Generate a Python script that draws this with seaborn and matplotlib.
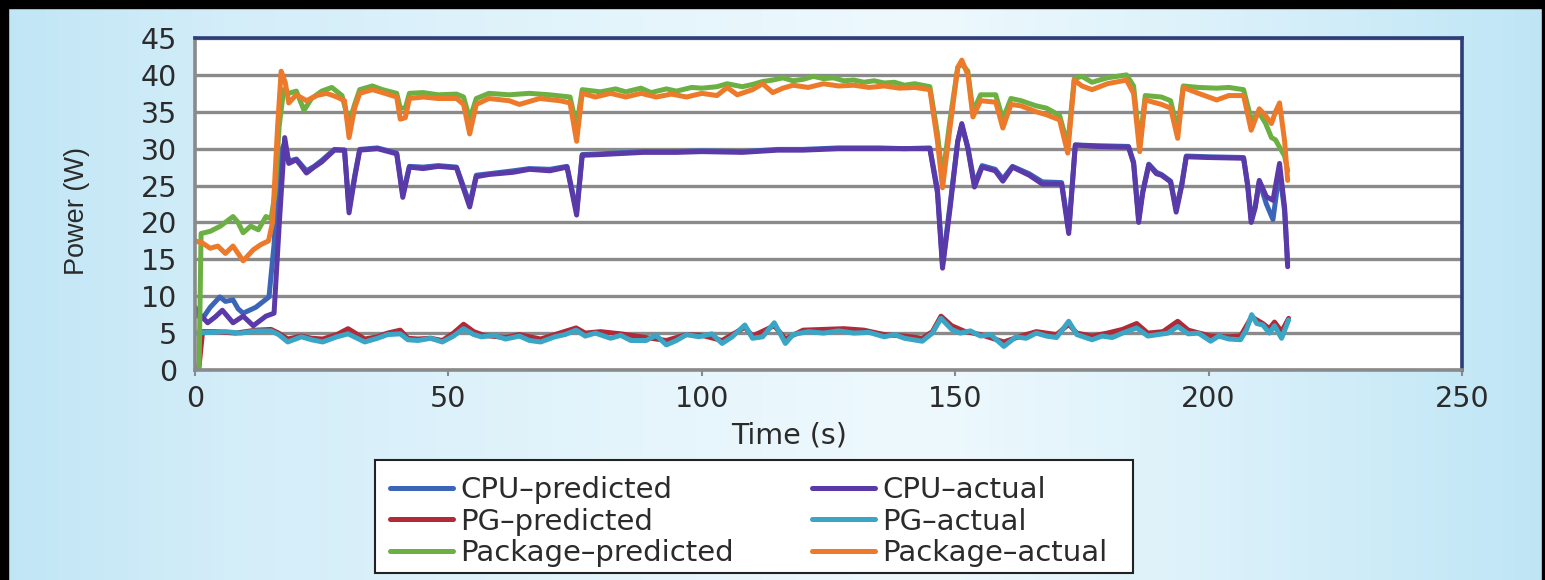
import numpy as np
import pandas as pd
import matplotlib
matplotlib.use("Agg")
import matplotlib.pyplot as plt
from matplotlib.patches import Rectangle
from matplotlib.colors import to_rgb
import seaborn as sns

# ---------------- data ----------------
cpu_predicted = [(0, 7.5), (1.5, 7.0), (3, 8.5), (4.9, 9.9), (6, 9.3), (7.5, 9.5), (8.5, 8.3),
                 (9.5, 7.7), (12, 8.5), (14.6, 9.9), (15.6, 17), (16.6, 29), (17.7, 30.8),
                 (18.5, 28.3), (20, 28.6), (22, 27.0), (23.5, 27.6), (25, 28.4), (27.5, 29.9),
                 (29.5, 29.8), (30.4, 21.8), (31.5, 26.3), (32.5, 29.9), (36, 30.1), (39.8, 29.4),
                 (41, 23.8), (42.3, 27.6), (45, 27.5), (48, 27.7), (51.6, 27.5), (54.2, 22.5),
                 (55.5, 26.4), (58, 26.6), (62.8, 27.0), (66, 27.3), (70, 27.2), (73.4, 27.6),
                 (75.3, 21.5), (76.4, 29.2), (80, 29.3), (88.5, 29.6), (95, 29.6), (100, 29.7),
                 (108, 29.6), (115, 29.9), (120, 29.9), (127, 30.1), (135, 30.1), (140, 30.0),
                 (145, 30.1), (146.5, 24.5), (147.5, 14.3), (149, 22.5), (150.5, 31), (151.3, 33.2),
                 (152.5, 30.2), (153.8, 25.2), (155.3, 27.7), (157.9, 27.2), (159.4, 25.9),
                 (161.3, 27.6), (164.6, 26.6), (167.2, 25.5), (171, 25.4), (172.4, 19.0),
                 (173.7, 30.5), (178, 30.4), (184.2, 30.3), (185.2, 28.2), (186.2, 20.5),
                 (187, 24.2), (188.2, 27.9), (189.7, 26.8), (190.7, 26.5), (192.5, 25.6),
                 (193.6, 21.8), (194.7, 25.2), (195.6, 29.0), (200, 28.9), (206.9, 28.8),
                 (207.7, 25.2), (208.4, 20.5), (209.2, 22.2), (210, 25.5), (211.4, 22.5),
                 (212.7, 20.4), (214, 27.0), (215, 21.5), (215.6, 14.5)]

cpu_actual = [(0, 8.5), (1, 7.5), (2.5, 6.4), (4, 7.2), (5.4, 8.1), (7.5, 6.4), (9.5, 7.3),
              (11.5, 6.0), (14, 7.3), (15.6, 7.7), (16.6, 19.5), (17.7, 31.5), (18.5, 28.0),
              (20, 28.5), (22, 26.7), (23.5, 27.5), (25, 28.2), (27.5, 29.8), (29.5, 29.8),
              (30.4, 21.3), (31.5, 26.0), (32.5, 29.8), (36, 30.0), (39.8, 29.3), (41, 23.4),
              (42.3, 27.5), (45, 27.3), (48, 27.6), (51.6, 27.4), (54.2, 22.1), (55.5, 26.2),
              (58, 26.5), (62.8, 26.8), (66, 27.2), (70, 27.0), (73.4, 27.5), (75.3, 21.0),
              (76.4, 29.1), (80, 29.2), (88.5, 29.5), (95, 29.5), (100, 29.6), (108, 29.5),
              (115, 29.8), (120, 29.8), (127, 30.0), (135, 30.0), (140, 30.0), (145, 30.0),
              (146.5, 24.0), (147.5, 13.8), (149, 22.0), (150.5, 31.0), (151.3, 33.4),
              (152.5, 30.0), (153.8, 24.8), (155.3, 27.5), (157.9, 27.0), (159.4, 25.6),
              (161.3, 27.5), (164.6, 26.4), (167.2, 25.2), (171, 25.2), (172.4, 18.5),
              (173.7, 30.5), (178, 30.3), (184.2, 30.2), (185.2, 28.0), (186.2, 20.0),
              (187, 24.0), (188.2, 27.8), (189.7, 26.6), (190.7, 26.4), (192.5, 25.5),
              (193.6, 21.4), (194.7, 25.0), (195.6, 28.9), (200, 28.8), (206.9, 28.7),
              (207.7, 25.0), (208.4, 20.0), (209.2, 22.0), (210, 25.7), (211.4, 23.5),
              (212.7, 23.0), (214, 28.0), (215, 22.0), (215.6, 14.0)]

pg_predicted = [(0, 0), (0.8, 0.5), (1.5, 5.2), (4, 5.2), (8, 5.0), (12, 5.4), (15, 5.5),
                (16.5, 5.0), (18.3, 4.2), (21, 4.6), (23, 4.3), (25.2, 4.2), (28, 4.8),
                (30.2, 5.6), (33.5, 4.2), (36, 4.5), (38, 5.0), (40.5, 5.4), (42, 4.3),
                (44, 4.2), (46.5, 4.3), (48.8, 4.0), (51, 5.0), (53, 6.2), (55, 5.2), (57, 4.7),
                (61.3, 4.4), (64, 4.8), (68.2, 4.2), (71, 4.8), (75.2, 5.7), (77, 5.0),
                (80, 5.2), (84, 4.9), (89, 4.4), (93, 4.0), (97, 4.8), (100, 4.7), (104, 4.0),
                (108.5, 5.8), (110, 4.6), (114.3, 6.0), (116.5, 4.2), (120, 5.4), (124, 5.5),
                (128, 5.6), (132, 5.4), (136, 4.8), (140, 4.6), (143.5, 4.3), (145.5, 5.2),
                (147.2, 7.3), (149.3, 6.0), (152, 5.2), (155, 4.8), (159.6, 3.8), (163, 4.6),
                (166, 5.2), (170, 4.8), (172.4, 6.2), (174, 5.0), (177, 4.6), (180, 5.0),
                (183, 5.5), (185.8, 6.3), (188, 5.0), (191, 5.2), (193.9, 6.6), (196, 5.4),
                (200.4, 4.6), (204, 4.5), (206.3, 4.6), (208.5, 7.2), (210.7, 6.3), (212, 5.6),
                (213, 6.5), (214.4, 5.2), (215.8, 7.0)]

pg_actual = [(0, 5.0), (3, 5.1), (6, 5.2), (9, 5.0), (12, 5.3), (15, 5.3), (16.5, 4.8),
             (18.3, 3.8), (21, 4.5), (23, 4.1), (25.2, 3.8), (28, 4.5), (30.2, 4.9), (33.5, 3.8),
             (36, 4.3), (38, 4.8), (40.5, 4.9), (42, 4.1), (44, 4.0), (46.5, 4.3), (48.8, 3.8),
             (51, 4.6), (53, 5.6), (55, 4.8), (56.5, 4.5), (59, 4.7), (61.3, 4.2), (64, 4.6),
             (66, 4.0), (68.2, 3.8), (71, 4.5), (73, 4.8), (75.2, 5.4), (77, 4.6), (79, 5.0),
             (82, 4.3), (84, 4.7), (86, 4.0), (89, 4.0), (91, 4.7), (93, 3.4), (95, 4.0),
             (97, 4.8), (99.4, 4.5), (102, 4.9), (104, 3.6), (106, 4.5), (108.5, 6.1),
             (110, 4.3), (112, 4.5), (114.3, 6.4), (116.5, 3.6), (118, 4.8), (121, 5.2),
             (124, 5.0), (127, 5.3), (130, 5.0), (133, 5.1), (136, 4.5), (138, 4.8), (140, 4.3),
             (143.5, 3.9), (145.5, 5.0), (147.2, 7.0), (149.3, 5.5), (151, 5.0), (153, 5.3),
             (155, 4.6), (157, 4.8), (159.6, 3.2), (162, 4.5), (164, 4.3), (166, 5.0),
             (168, 4.6), (170, 4.4), (172.4, 6.6), (174, 4.8), (177, 4.1), (179, 4.6),
             (181, 4.4), (183, 5.0), (185.8, 5.7), (188, 4.6), (190, 4.8), (192, 5.0),
             (193.9, 5.9), (196, 4.9), (198, 5.0), (200.4, 3.9), (202, 4.6), (204, 4.2),
             (206.3, 4.1), (207.5, 5.5), (208.5, 7.5), (209.5, 6.3), (210.7, 6.1), (212, 5.0),
             (213, 6.0), (214.4, 4.3), (215.8, 6.8)]

package_predicted = [(0, 0), (0.8, 0), (1.2, 18.5), (3, 18.8), (5, 19.5), (7.5, 20.8), (8.5, 20.0),
                     (9.5, 18.6), (11, 19.5), (12.5, 19.0), (14, 20.8), (15, 20.5), (15.8, 24),
                     (16.6, 33), (17.5, 38), (18.5, 37.5), (20, 37.8), (21.5, 35.2), (23, 36.8),
                     (25, 37.8), (27, 38.3), (29, 37.2), (30.4, 33.5), (31.5, 36), (32.5, 38),
                     (35, 38.5), (37, 38), (39.8, 37.5), (40.5, 35.5), (41.5, 35.5), (42.3, 37.5),
                     (45, 37.6), (48, 37.3), (51.6, 37.4), (53, 37), (54.2, 34), (55.5, 36.8),
                     (58, 37.5), (62, 37.3), (66, 37.5), (70, 37.3), (74, 37), (75.3, 33),
                     (76.4, 38), (80, 37.7), (83, 38.1), (85, 37.7), (88, 38.2), (90, 37.6),
                     (93, 38.1), (95, 37.8), (98, 38.3), (100, 38.2), (103, 38.4), (105, 38.8),
                     (108, 38.4), (110, 38.7), (112, 39.1), (114, 39.3), (116, 39.6),
                     (118, 39.2), (120, 39.4), (122, 39.8), (124, 39.5), (126, 39.6),
                     (128, 39.2), (130, 39.3), (132, 39), (134, 39.2), (136, 38.9), (138, 39.0),
                     (140, 38.6), (142, 38.8), (145, 38.4), (146.5, 32),
                     (147.5, 26), (149, 34), (150.5, 41), (151.3, 41.5), (152.5, 40.5),
                     (153.5, 35), (155, 37.3), (158, 37.3), (159.4, 34), (161, 36.8), (163, 36.5),
                     (166, 35.8), (168, 35.5), (170.6, 34.5), (172.2, 30.5), (173.5, 39.5),
                     (175, 39.8), (177, 39), (180, 39.6), (183.8, 40), (185.2, 38.5),
                     (186.4, 30.5), (187.5, 37.2), (190.7, 37), (192.5, 36.5), (193.9, 32.5),
                     (195, 38.5), (198, 38.3), (201.6, 38.2), (204, 38.3), (206.9, 38),
                     (208.4, 34), (210, 34.8), (211.2, 33.5), (212.4, 31.5), (213.2, 31.2),
                     (214, 30.2), (215, 29), (215.6, 27)]

package_actual = [(0, 17.5), (1.5, 17.2), (3, 16.5), (4.5, 16.8), (6, 15.8), (7.5, 16.8),
                  (9.5, 14.8), (11.5, 16.3), (13, 17), (14.5, 17.5), (15.3, 20), (16.3, 33),
                  (17, 40.5), (17.8, 39), (18.5, 36.2), (20, 37.3), (22, 36.5), (24, 37.2),
                  (26, 37.5), (28, 37), (29.5, 36.5), (30.4, 31.5), (31.5, 35.5), (32.5, 37.5),
                  (35, 38), (37, 37.6), (39.8, 37), (40.5, 34), (41.5, 34.2), (42.3, 36.8),
                  (45, 37), (48, 36.8), (51.6, 36.8), (53, 36), (54.2, 32), (55.5, 36),
                  (58, 36.8), (62, 36.5), (64, 36), (68, 36.8), (72, 36.5), (74, 36.2),
                  (75.3, 31), (76.4, 37.5), (79, 37), (82, 37.5), (85, 37), (88, 37.5), (91, 37),
                  (94, 37.4), (97, 37), (100, 37.5), (103, 37.2), (105, 38.3), (107, 37.3),
                  (110, 38), (112, 38.8), (114, 37.6), (116, 38.2), (118, 38.6), (121, 38.3),
                  (124, 38.8), (127, 38.5), (130, 38.6), (133, 38.3), (136, 38.5), (139, 38.2),
                  (142, 38.3), (145, 38), (146.5, 31), (147.5, 24.7), (149, 33), (150.5, 41),
                  (151.3, 42), (152.5, 40), (153.5, 34.3), (155, 36.5), (158, 36.3),
                  (159.4, 32.8), (161, 36), (163, 35.8), (166, 35), (168, 34.6), (170.6, 33.9),
                  (172.2, 29.4), (173.5, 39.3), (175, 38.5), (177, 38), (180, 38.8),
                  (183.8, 39.3), (185.2, 37.5), (186.4, 29.6), (187.5, 36.6), (190.7, 36),
                  (192.5, 35.5), (193.9, 31.4), (195, 38.3), (198, 37.5), (201.6, 36.6),
                  (204, 37.2), (206.9, 37.2), (208.4, 32.5), (210, 35.4), (211.2, 34.5),
                  (212.4, 33.4), (213.2, 35), (214, 36.2), (215, 31), (215.6, 25.7)]

series_names = ["CPU\u2013predicted", "PG\u2013predicted", "Package\u2013predicted",
                "CPU\u2013actual", "PG\u2013actual", "Package\u2013actual"]
series_data = [cpu_predicted, pg_predicted, package_predicted,
               cpu_actual, pg_actual, package_actual]
series_colors = ["#3b66b8", "#b02a38", "#6cb043", "#5a3aa8", "#3aa5c5", "#ec7a2a"]
draw_order = [0, 3, 1, 4, 2, 5]

x_ticks = [0, 50, 100, 150, 200, 250]
y_ticks = [0, 5, 10, 15, 20, 25, 30, 35, 40, 45]

# ---------------- figure ----------------
sns.set_theme(style="white")
plt.rcParams["font.family"] = ["DejaVu Sans"]

W, H = 1545, 580
fig = plt.figure(figsize=(W / 100, H / 100), dpi=100)
fig.patch.set_facecolor("#d6eff9")

# background gradient (light blue)
bg = fig.add_axes([-0.01, -0.02, 1.02, 1.04], zorder=-10)
stops = [(0.0, "#bfe5f5"), (0.15, "#d3edf9"), (0.45, "#e7f6fc"), (0.6, "#eef9fd"),
         (0.8, "#d9f0fa"), (1.0, "#bde5f5")]
xs = np.linspace(0, 1, 400)
cols = np.zeros((1, 400, 3))
for ch in range(3):
    cols[0, :, ch] = np.interp(xs, [s[0] for s in stops], [to_rgb(s[1])[ch] for s in stops])
bg.imshow(cols, aspect="auto", extent=[0, 1, 0, 1], interpolation="bilinear")
bg.set_xlim(0, 1)
bg.set_ylim(0, 1)
bg.set_axis_off()

# black frame strips (top, left, right)
fig.add_artist(Rectangle((0, 1 - 8 / H), 1, 8 / H, transform=fig.transFigure,
                         color="black", zorder=5))
fig.add_artist(Rectangle((0, 0), 8 / W, 1, transform=fig.transFigure, color="black", zorder=5))
fig.add_artist(Rectangle((1 - 3 / W, 0), 3 / W, 1, transform=fig.transFigure,
                         color="black", zorder=5))

ax = fig.add_axes([195 / W, 1 - 370 / H, (1462 - 195) / W, (370 - 38) / H])
ax.set_facecolor("white")

handles = {}
for i in draw_order:
    df = pd.DataFrame(series_data[i], columns=["Time", "Power"])
    sns.lineplot(data=df, x="Time", y="Power", ax=ax, color=series_colors[i],
                 linewidth=3.6, sort=False, estimator=None, label=series_names[i],
                 legend=False, solid_joinstyle="round", solid_capstyle="round")
    handles[i] = ax.lines[-1]

ax.set_xlim(0, 250)
ax.set_ylim(0, 45)
ax.set_xticks(x_ticks)
ax.set_yticks(y_ticks)
ax.set_xticklabels([str(v) for v in x_ticks])
ax.set_yticklabels([str(v) for v in y_ticks])
ax.grid(axis="y", color="#8a8a8a", linewidth=2.4, zorder=0)
ax.grid(axis="x", visible=False)
ax.set_axisbelow(True)

for side in ["top", "right"]:
    ax.spines[side].set_color("#2c3d78")
    ax.spines[side].set_linewidth(2.6)
for side in ["left", "bottom"]:
    ax.spines[side].set_color("#8a8a8a")
    ax.spines[side].set_linewidth(2.6)

ax.tick_params(axis="x", length=4, width=1.5, color="#8a8a8a", pad=7,
               labelsize=20.5, labelcolor="#2b2b2b", direction="out", bottom=True)
ax.tick_params(axis="y", length=0, pad=13, labelsize=20.5, labelcolor="#2b2b2b")

ax.set_xlabel("Time (s)", fontsize=20.5, color="#2b2b2b")
ax.xaxis.set_label_coords(0.469, -0.155)
ax.set_ylabel("Power (W)", fontsize=19.5, color="#2b2b2b",
              family=["Liberation Sans", "DejaVu Sans"])
ax.yaxis.set_label_coords(-0.083, 0.48)

# legend box (drawn separately so its size matches the reference)
fig.add_artist(Rectangle((375 / W, 1 - 573 / H), (1133 - 375) / W, (573 - 460) / H,
                         transform=fig.transFigure, facecolor="white",
                         edgecolor="#222222", linewidth=1.5, zorder=4))
leg_handles = [handles[i] for i in range(6)]
leg = fig.legend(leg_handles, series_names, ncol=2, loc="upper left",
                 bbox_to_anchor=(390 / W, 1 - 476 / H), fontsize=21, frameon=False,
                 handlelength=2.15, handletextpad=0.25, labelspacing=0.12,
                 borderpad=0, borderaxespad=0, columnspacing=2.7)
leg.set_zorder(6)
for t in leg.get_texts():
    t.set_color("#2b2b2b")
for lh in leg.get_lines():
    lh.set_linewidth(3.6)

fig.savefig("out.png", dpi=100, facecolor=fig.get_facecolor())
